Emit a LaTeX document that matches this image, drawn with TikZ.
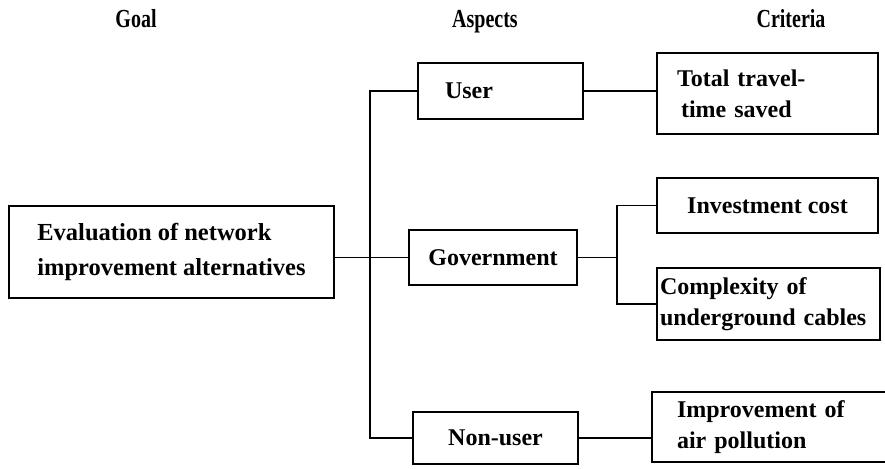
\documentclass[tikz,border=0pt]{standalone}
\usepackage{fontspec}
\setmainfont{Liberation Serif}

\begin{document}
\begin{tikzpicture}[x=1pt,y=-1pt,line width=1.7pt,
    box/.style={draw,inner sep=0pt,align=center,font=\bfseries\fontsize{24}{31}\selectfont},
    head/.style={anchor=base,font=\bfseries\fontsize{20}{24}\selectfont}]
\useasboundingbox (0,0) rectangle (885,468);
\node[head] (goalhd) at (136,28) {\scalebox{1}[1.3]{Goal}};
\node[head] (asphd) at (485,28) {\scalebox{1}[1.3]{Aspects}};
\node[head] (crithd) at (791,28) {\scalebox{1}[1.3]{Criteria}};
\node[box,minimum width=325,minimum height=92,align=left,
      font=\bfseries\fontsize{24.5}{35}\selectfont] (goal) at (171.5,252)
      {Evaluation of network\\improvement alternatives};
\node[box,text width=111,inner xsep=27,minimum height=56,align=left] (user) at (500.5,91) {User};
\node[box,minimum width=168,minimum height=55] (gov) at (493,257.5) {Government};
\node[box,minimum width=165,minimum height=52] (nonuser) at (495.5,438) {Non-user};
\node[box,text width=181,inner xsep=20,minimum height=81,align=left] (total) at (767.5,93.5)
      {Total travel-\\\hspace*{4pt}time saved};
\node[box,minimum width=221,minimum height=55] (invest) at (767.5,205.5) {Investment cost};
\node[box,text width=217,inner xsep=3,minimum height=72,align=left] (complex) at (768.5,304)
      {Complexity of\\underground cables};
\node[box,text width=186,inner xsep=25,minimum height=70,align=left] (improve) at (770,427)
      {Improvement of\\air pollution};
\coordinate (bus) at (370,0);
\coordinate (fork) at (617,0);
\draw (gov.west) -- (gov.west -| goal.east);
\draw (user.west) -| (bus |- nonuser.west) -- (nonuser.west);
\draw (user.east) -- (user.east -| total.west);
\draw (nonuser.east) -- (nonuser.east -| improve.west);
\draw (gov.east) -- (gov.east -| fork);
\draw (invest.west) -| (fork |- complex.west) -- (complex.west);
\end{tikzpicture}
\end{document}
